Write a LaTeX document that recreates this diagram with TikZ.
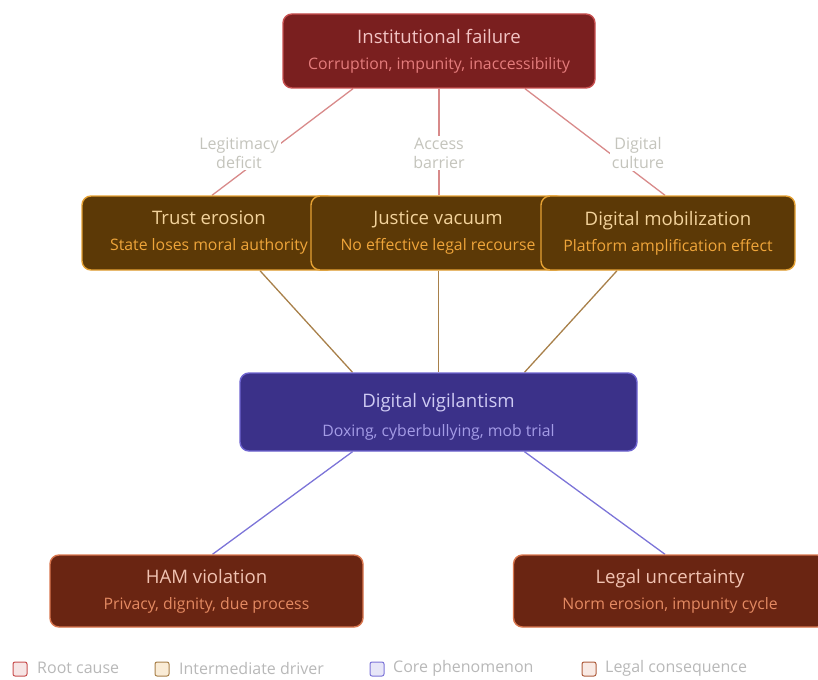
\documentclass[tikz,border=0pt]{standalone}
\usepackage{fontspec}
\setmainfont{Open Sans}
\usepackage{tikz}
\usetikzlibrary{calc,positioning}
\definecolor{rootfill}{HTML}{7A1F1F}
\definecolor{rootdraw}{HTML}{C85050}
\definecolor{roottxt}{HTML}{F2C4C4}
\definecolor{rootsub}{HTML}{E47C7C}
\definecolor{rootln}{HTML}{D88A8A}
\definecolor{drvfill}{HTML}{5C3906}
\definecolor{drvdraw}{HTML}{E5A133}
\definecolor{drvtxt}{HTML}{F3D39C}
\definecolor{drvsub}{HTML}{EFA53A}
\definecolor{drvln}{HTML}{A8804A}
\definecolor{corefill}{HTML}{3B3189}
\definecolor{coredraw}{HTML}{6E64D0}
\definecolor{coretxt}{HTML}{CFCBF3}
\definecolor{coresub}{HTML}{A49CE6}
\definecolor{coreln}{HTML}{7C74D8}
\definecolor{consfill}{HTML}{6A2512}
\definecolor{consdraw}{HTML}{D9764E}
\definecolor{constxt}{HTML}{F1C3B2}
\definecolor{conssub}{HTML}{E48A62}
\definecolor{lblgray}{HTML}{C4C4BC}
\definecolor{leggray}{HTML}{B8B8B8}
\pgfdeclarelayer{bg}
\pgfsetlayers{bg,main}
\tikzset{
  bx/.style={rounded corners=9pt, line width=1.4pt, align=center,
             font=\fontsize{15.8}{26}\selectfont, inner sep=0pt},
  rootbox/.style={bx, draw=rootdraw, fill=rootfill, minimum width=312, minimum height=74},
  drvbox/.style={bx, draw=drvdraw, fill=drvfill, minimum width=254, minimum height=74},
  corebox/.style={bx, draw=coredraw, fill=corefill, minimum width=397, minimum height=78},
  consbox/.style={bx, draw=consdraw, fill=consfill, minimum width=313, minimum height=72},
  rln/.style={rootln, line width=1.3pt},
  dln/.style={drvln, line width=1.3pt},
  cln/.style={coreln, line width=1.3pt},
  elab/.style={fill=white, text=lblgray, align=center, inner sep=2pt,
               font=\fontsize{16}{19}\selectfont},
  legsq/.style={rounded corners=2pt, line width=1pt, minimum size=14, inner sep=0pt},
  legtxt/.style={anchor=west, text=leggray, inner sep=0pt, font=\fontsize{16}{18}\selectfont},
}
\begin{document}
\begin{tikzpicture}[x=1pt, y=-1pt]
  \useasboundingbox (0,0) rectangle (818,679);
  % boxes
  \node[rootbox] (inst) at (439,51)
    {{\color{roottxt}\fontsize{18.6}{26}\selectfont Institutional failure}\\
     \color{rootsub}Corruption, impunity, inaccessibility};
  \node[drvbox] (trust) at (209,233)
    {{\color{drvtxt}\fontsize{18.6}{26}\selectfont Trust erosion}\\
     \color{drvsub}State loses moral authority};
  \node[drvbox] (just) at (438,233)
    {{\color{drvtxt}\fontsize{18.6}{26}\selectfont Justice vacuum}\\
     \color{drvsub}No effective legal recourse};
  \node[drvbox] (mob) at (668,233)
    {{\color{drvtxt}\fontsize{18.6}{26}\selectfont Digital mobilization}\\
     \color{drvsub}Platform amplification effect};
  \node[corebox] (vigil) at (438.5,412)
    {{\color{coretxt}\fontsize{18.6}{26}\selectfont\rule{0pt}{24pt}Digital vigilantism}\\[3pt]
     \color{coresub}Doxing, cyberbullying, mob trial};
  \node[consbox] (ham) at (206.5,591)
    {{\color{constxt}\fontsize{18.6}{26}\selectfont HAM violation}\\
     \color{conssub}Privacy, dignity, due process};
  \node[consbox] (legal) at (670,591)
    {{\color{constxt}\fontsize{18.6}{26}\selectfont Legal uncertainty}\\
     \color{conssub}Norm erosion, impunity cycle};
  % edge labels
  \node[elab] (l1) at (239,153) {Legitimacy\\deficit};
  \node[elab] (l2) at (439,153) {Access\\barrier};
  \node[elab] (l3) at (638,153) {Digital\\culture};
  % connectors
  \begin{pgfonlayer}{bg}
    \draw[rln] ($(inst.south)+(-86,0)$) -- ($(trust.north)+(3,0)$);
    \draw[rln] (inst.south) -- (just.north -| inst.south);
    \draw[rln] ($(inst.south)+(86,0)$) -- ($(mob.north)+(-3,0)$);
    \draw[dln] ($(trust.south)+(51,0)$) -- ($(vigil.north)+(-86,0)$);
    \draw[dln] (just.south -| vigil.north) -- (vigil.north);
    \draw[dln] ($(mob.south)+(-51,0)$) -- ($(vigil.north)+(86,0)$);
    \draw[cln] ($(vigil.south)+(-86,0)$) -- ($(ham.north)+(6,0)$);
    \draw[cln] ($(vigil.south)+(86,0)$) -- ($(legal.north)+(-5,0)$);
  \end{pgfonlayer}
  % legend
  \node[legsq, draw=rootdraw, fill=rootdraw!15] (sq1) at (20,669) {};
  \node[legtxt] (t1) at (37,668) {Root cause};
  \node[legsq, draw=drvln, fill=drvdraw!20] (sq2) at (162,669) {};
  \node[legtxt] (t2) at (179,668) {Intermediate driver};
  \node[legsq, draw=coreln, fill=coreln!18] (sq3) at (377,669) {};
  \node[legtxt] (t3) at (393,668) {Core phenomenon};
  \node[legsq, draw=consdraw!80!black, fill=consdraw!15] (sq4) at (589,669) {};
  \node[legtxt] (t4) at (605,668) {Legal consequence};
\end{tikzpicture}
\end{document}
